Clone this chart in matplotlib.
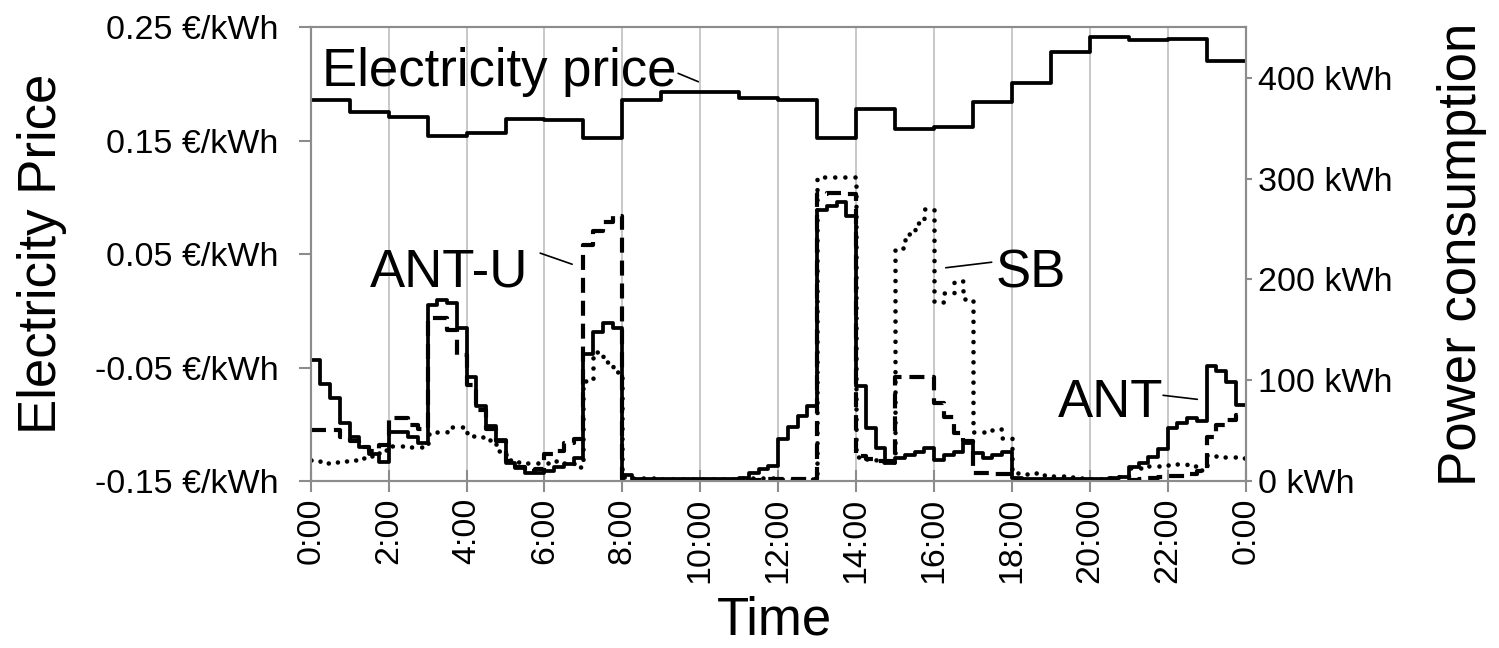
import numpy as np
import matplotlib
matplotlib.use("Agg")
import matplotlib.pyplot as plt

plt.rcParams["font.family"] = ["Liberation Sans", "DejaVu Sans"]

# ---------- DATA ----------
# hourly electricity price (EUR/kWh), 0:00 .. 23:00
price = [0.186, 0.175, 0.171, 0.154, 0.157, 0.169, 0.168, 0.152,
         0.186, 0.193, 0.193, 0.188, 0.186, 0.152, 0.178, 0.160,
         0.162, 0.184, 0.201, 0.228, 0.241, 0.239, 0.240, 0.220]

# power consumption (kWh), 15 minute steps, 0:00 .. 23:45
ant = [120, 96, 82, 58, 44, 34, 27, 19,
       49, 49, 44, 38, 175, 180, 177, 152,
       103, 74, 55, 41, 18, 13, 8, 8,
       10, 14, 17, 23, 126, 148, 157, 152,
       6, 2, 2, 2, 2, 2, 2, 2,
       2, 2, 2, 2, 3, 8, 12, 15,
       42, 54, 64, 74, 269, 273, 277, 263,
       94, 53, 33, 18, 23, 26, 29, 33,
       21, 26, 29, 38, 28, 23, 26, 29,
       3, 2, 2, 2, 2, 2, 2, 2,
       2, 2, 3, 4, 14, 18, 24, 32,
       53, 58, 62, 60, 114, 109, 98, 75]

ant_u = [51, 51, 51, 44, 40, 34, 30, 36,
         62, 62, 56, 52, 162, 162, 150, 125,
         95, 70, 52, 40, 20, 14, 10, 12,
         27, 30, 38, 42, 234, 248, 257, 263,
         2, 1, 1, 1, 1, 1, 1, 1,
         1, 1, 1, 1, 1, 1, 1, 2,
         2, 2, 2, 2, 285, 286, 286, 285,
         25, 22, 20, 20, 103, 103, 103, 103,
         77, 63, 48, 40, 8, 8, 7, 7,
         2, 1, 1, 1, 1, 1, 1, 1,
         1, 1, 1, 1, 1, 2, 3, 4,
         5, 5, 7, 10, 44, 56, 61, 65]

sb = [21, 18, 19, 20, 21, 23, 25, 31,
      35, 35, 34, 34, 47, 49, 54, 54,
      45, 44, 41, 30, 21, 19, 18, 18,
      18, 20, 18, 14, 99, 128, 118, 108,
      4, 3, 3, 3, 2, 2, 2, 2,
      2, 2, 2, 2, 3, 3, 3, 3,
      2, 2, 2, 2, 302, 302, 302, 302,
      24, 22, 19, 19, 231, 245, 256, 270,
      178, 186, 198, 181, 49, 49, 52, 43,
      8, 7, 8, 6, 5, 5, 4, 3,
      2, 2, 3, 5, 13, 13, 15, 15,
      16, 17, 15, 11, 26, 24, 24, 23]

price_ticks = [-0.15, -0.05, 0.05, 0.15, 0.25]
power_ticks = [0, 100, 200, 300, 400]
hour_ticks = list(range(0, 25, 2))
hour_labels = [f"{h % 24}:00" for h in hour_ticks]

# ---------- PLOT ----------
GRAY = "#8c8c8c"
FS_TICK = 24.5
FS_LABEL = 38

t_hour = np.arange(len(price) + 1)
t_q = np.arange(len(ant) + 1) * 0.25

fig = plt.figure(figsize=(14.99, 6.48), dpi=100)
ax = fig.add_axes([0.2073, 0.2577, 0.6237, 0.7002])
ax2 = ax.twinx()

ax.step(t_hour, price + [price[-1]], where="post", color="black", lw=2.7)

ax2.step(t_q, sb + [sb[-1]], where="post", color="black", lw=3.3,
         dashes=(0.01, 2.2), dash_capstyle="round")
ax2.step(t_q, ant_u + [ant_u[-1]], where="post", color="black", lw=3.0,
         dashes=(3.6, 1.9), dash_capstyle="butt")
ax2.step(t_q, ant + [ant[-1]], where="post", color="black", lw=2.7)

ax.set_xlim(0, 24)
ax.set_ylim(-0.15, 0.25)
ax2.set_ylim(0, 450)

ax.set_xticks(hour_ticks)
ax.set_xticklabels(hour_labels, rotation=90, fontsize=FS_TICK)
ax.set_yticks(price_ticks)
ax.set_yticklabels([f"{v:.2f} €/kWh" for v in price_ticks], fontsize=FS_TICK)
ax2.set_yticks(power_ticks)
ax2.set_yticklabels([f"{v} kWh" for v in power_ticks], fontsize=FS_TICK)

ax.xaxis.grid(True, color="#c4c4c4", lw=1.3)
ax.set_axisbelow(True)

ax.tick_params(axis="x", direction="inout", length=16, width=1.5, color=GRAY, pad=4)
ax.tick_params(axis="y", direction="out", length=9, width=1.5, color=GRAY, pad=14)
ax2.tick_params(axis="y", direction="out", length=4, width=1.5, color=GRAY, pad=5)
for a in (ax, ax2):
    for s in a.spines.values():
        s.set_color(GRAY)
        s.set_linewidth(1.5)

# axis titles
fig.text(0.028, 0.608, "Electricity Price", rotation=90, ha="center", va="center",
         fontsize=FS_LABEL)
fig.text(0.975, 0.608, "Power consumption", rotation=90, ha="center", va="center",
         fontsize=FS_LABEL)
fig.text(0.517, 0.043, "Time", ha="center", va="center", fontsize=FS_LABEL)

# labels with leader lines
line_kw = dict(arrowstyle="-", color="black", lw=1.2, shrinkA=0, shrinkB=0)
ax.text(0.28, 0.1985, "Electricity price", ha="left", va="baseline", fontsize=FS_LABEL)
ax.annotate("", xy=(9.95, 0.202), xytext=(9.43, 0.2094), arrowprops=line_kw)

ax2.text(5.58, 193, "ANT-U", ha="right", va="baseline", fontsize=FS_LABEL)
ax2.annotate("", xy=(6.71, 215), xytext=(5.89, 226), arrowprops=line_kw)

ax2.text(17.59, 192, "SB", ha="left", va="baseline", fontsize=FS_LABEL)
ax2.annotate("", xy=(16.3, 211.5), xytext=(17.48, 217), arrowprops=line_kw)

ax2.text(21.9, 63, "ANT", ha="right", va="baseline", fontsize=FS_LABEL)
ax2.annotate("", xy=(22.76, 81), xytext=(21.88, 85), arrowprops=line_kw)

fig.savefig("out.png", dpi=100)
